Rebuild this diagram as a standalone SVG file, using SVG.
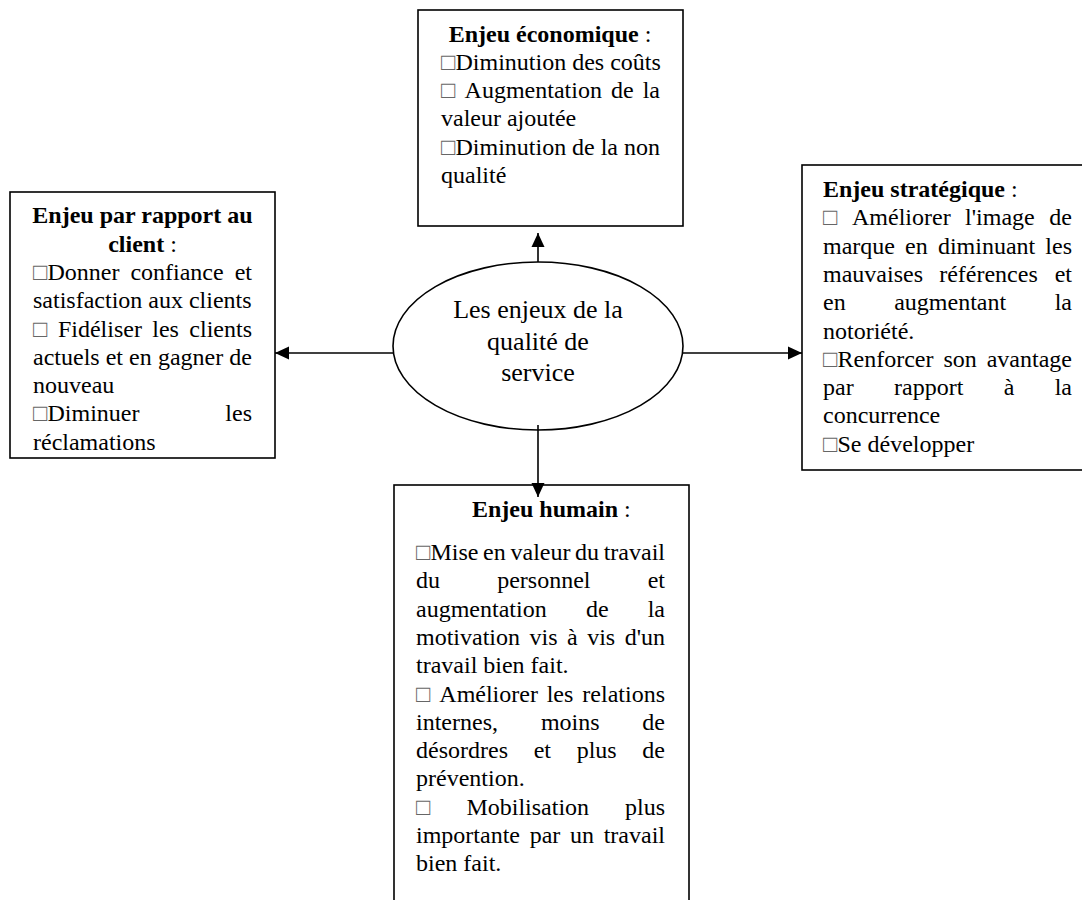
<svg xmlns="http://www.w3.org/2000/svg" width="1082" height="900" viewBox="0 0 1082 900">
<defs>
<style>
.t{font-family:"Liberation Serif","Times New Roman",serif;font-size:24px;fill:#000}
.c{font-family:"Liberation Serif","Times New Roman",serif;font-size:26px;fill:#000;text-anchor:middle}
.b{font-weight:bold}
.q{fill:#666}
.e{text-anchor:end}
.box{fill:#fff;stroke:#000;stroke-width:1.6}
.ln{stroke:#000;stroke-width:1.6;fill:none}
</style>
<marker id="ah" viewBox="0 0 14 14" refX="14" refY="7" markerWidth="14" markerHeight="14" markerUnits="userSpaceOnUse" orient="auto">
<path d="M0,0.5 L14,7 L0,13.5 z" fill="#000"/>
</marker>
</defs>
<rect width="1082" height="900" fill="#fff"/>

<g id="n-economique">
<rect class="box" x="418" y="10" width="265" height="216"/>
<text class="t" x="550" y="41.5" text-anchor="middle"><tspan class="b">Enjeu économique</tspan> :</text>
<text class="t" x="441" y="69.8"><tspan class="q">□</tspan>Diminution des coûts</text>
<text class="t" y="98.1"><tspan class="q" x="441">□</tspan><tspan x="464.6">Augmentation</tspan><tspan x="611">de</tspan><tspan x="660" class="e">la</tspan></text>
<text class="t" x="441" y="126.4">valeur ajoutée</text>
<text class="t" y="154.7"><tspan x="441"><tspan class="q">□</tspan>Diminution</tspan><tspan x="572">de</tspan><tspan x="600.7">la</tspan><tspan x="660" class="e">non</tspan></text>
<text class="t" x="441" y="183">qualité</text>
</g>

<g id="n-client">
<rect class="box" x="10" y="192" width="265" height="266"/>
<text class="t" x="142.5" y="223.3" text-anchor="middle"><tspan class="b">Enjeu par rapport au</tspan></text>
<text class="t" x="142.5" y="251.6" text-anchor="middle"><tspan class="b">client</tspan> :</text>
<text class="t" y="279.9"><tspan x="33"><tspan class="q">□</tspan>Donner</tspan><tspan x="130.4">confiance</tspan><tspan x="252" class="e">et</tspan></text>
<text class="t" x="33" y="308.2">satisfaction aux clients</text>
<text class="t" y="336.5"><tspan class="q" x="33">□</tspan><tspan x="57.9">Fidéliser</tspan><tspan x="152.3">les</tspan><tspan x="252" class="e">clients</tspan></text>
<text class="t" y="364.8"><tspan x="33">actuels</tspan><tspan x="105.7">et</tspan><tspan x="129.1">en</tspan><tspan x="157.9">gagner</tspan><tspan x="252" class="e">de</tspan></text>
<text class="t" x="33" y="393.1">nouveau</text>
<text class="t" y="421.4"><tspan x="33"><tspan class="q">□</tspan>Diminuer</tspan><tspan x="252" class="e">les</tspan></text>
<text class="t" x="33" y="449.7">réclamations</text>
</g>

<g id="n-strategique">
<rect class="box" x="802" y="165" width="300" height="305"/>
<text class="t" x="823" y="197"><tspan class="b">Enjeu stratégique</tspan> :</text>
<text class="t" y="225.3"><tspan class="q" x="823">□</tspan><tspan x="852">Améliorer</tspan><tspan x="965.1">l'image</tspan><tspan x="1072" class="e">de</tspan></text>
<text class="t" y="253.6"><tspan x="823">marque</tspan><tspan x="905.1">en</tspan><tspan x="937.9">diminuant</tspan><tspan x="1072" class="e">les</tspan></text>
<text class="t" y="281.9"><tspan x="823">mauvaises</tspan><tspan x="939.2">références</tspan><tspan x="1072" class="e">et</tspan></text>
<text class="t" y="310.2"><tspan x="823">en</tspan><tspan x="894.2">augmentant</tspan><tspan x="1072" class="e">la</tspan></text>
<text class="t" x="823" y="338.5">notoriété.</text>
<text class="t" y="366.8"><tspan x="823"><tspan class="q">□</tspan>Renforcer</tspan><tspan x="943.4">son</tspan><tspan x="1072" class="e">avantage</tspan></text>
<text class="t" y="395.1"><tspan x="823">par</tspan><tspan x="894">rapport</tspan><tspan x="1003.7">à</tspan><tspan x="1072" class="e">la</tspan></text>
<text class="t" x="823" y="423.4">concurrence</text>
<text class="t" x="823" y="451.7"><tspan class="q">□</tspan>Se développer</text>
</g>

<g id="n-humain">
<rect class="box" x="394" y="485" width="295" height="440"/>
<text class="t" x="472" y="516.5"><tspan class="b">Enjeu humain</tspan> :</text>
<text class="t" y="560"><tspan x="416"><tspan class="q">□</tspan>Mise</tspan><tspan x="483.1">en</tspan><tspan x="510.5">valeur</tspan><tspan x="575.1">du</tspan><tspan x="665" class="e">travail</tspan></text>
<text class="t" y="588.3"><tspan x="416">du</tspan><tspan x="497.2">personnel</tspan><tspan x="665" class="e">et</tspan></text>
<text class="t" y="616.6"><tspan x="416">augmentation</tspan><tspan x="585.9">de</tspan><tspan x="665" class="e">la</tspan></text>
<text class="t" y="644.9"><tspan x="416">motivation</tspan><tspan x="529.5">vis</tspan><tspan x="567">à</tspan><tspan x="587.2">vis</tspan><tspan x="665" class="e">d'un</tspan></text>
<text class="t" x="416" y="673.2">travail bien fait.</text>
<text class="t" y="701.5"><tspan class="q" x="416">□</tspan><tspan x="439.3">Améliorer</tspan><tspan x="546.7">les</tspan><tspan x="665" class="e">relations</tspan></text>
<text class="t" y="729.8"><tspan x="416">internes,</tspan><tspan x="540.9">moins</tspan><tspan x="665" class="e">de</tspan></text>
<text class="t" y="758.1"><tspan x="416">désordres</tspan><tspan x="533.7">et</tspan><tspan x="576.7">plus</tspan><tspan x="665" class="e">de</tspan></text>
<text class="t" x="416" y="786.4">prévention.</text>
<text class="t" y="814.7"><tspan class="q" x="416">□</tspan><tspan x="466.4">Mobilisation</tspan><tspan x="665" class="e">plus</tspan></text>
<text class="t" y="843"><tspan x="416">importante</tspan><tspan x="529.7">par</tspan><tspan x="570">un</tspan><tspan x="665" class="e">travail</tspan></text>
<text class="t" x="416" y="871.3">bien fait.</text>
</g>

<g id="n-centre">
<ellipse class="box" cx="538" cy="346" rx="145" ry="84"/>
<text class="c" x="538" y="318">Les enjeux de la</text>
<text class="c" x="538" y="349.5">qualité de</text>
<text class="c" x="538" y="381">service</text>
</g>

<g id="connectors">
<line class="ln" x1="538" y1="262" x2="538" y2="233" marker-end="url(#ah)"/>
<line class="ln" x1="393" y1="353" x2="275" y2="353" marker-end="url(#ah)"/>
<line class="ln" x1="683" y1="353" x2="802" y2="353" marker-end="url(#ah)"/>
<line class="ln" x1="538" y1="425" x2="538" y2="497" marker-end="url(#ah)"/>
</g>
</svg>
